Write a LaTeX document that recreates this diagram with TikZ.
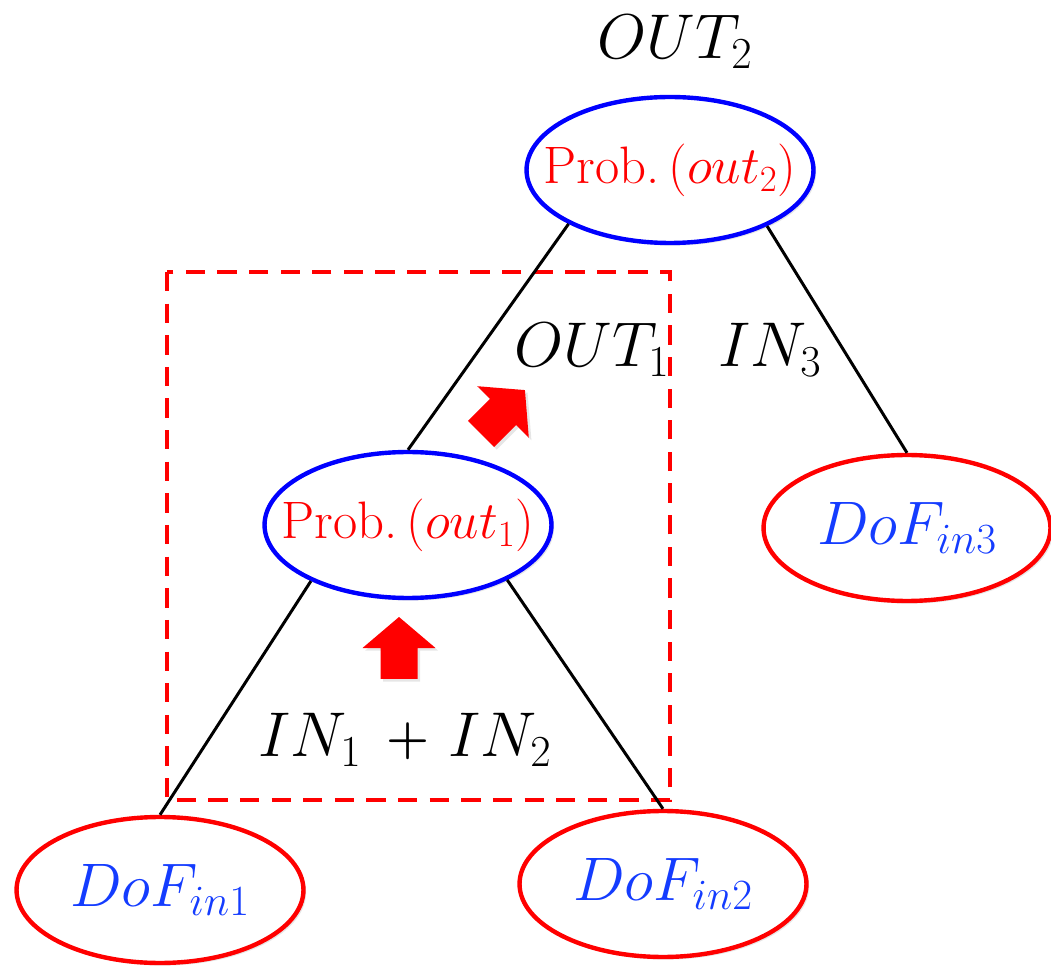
\RequirePackage{fix-cm}
\documentclass[tikz,border=0pt]{standalone}
\usepackage{tikz}
\usetikzlibrary{shapes.geometric,shadows}
\definecolor{dofblue}{RGB}{20,60,255}

\tikzset{
  softshadow/.style={drop shadow={opacity=0.2,shadow xshift=1.5pt,shadow yshift=-1.5pt}},
  probnode/.style={ellipse, draw=blue, line width=2.5pt, fill=white, inner sep=0pt,
    minimum width=5.74cm, minimum height=2.92cm, text=red,
    font=\fontsize{30}{33}\selectfont, softshadow},
  dofnode/.style={ellipse, draw=red, line width=2.5pt, fill=white, inner sep=0pt,
    minimum width=5.74cm, minimum height=2.92cm, text=dofblue,
    font=\fontsize{35}{38}\selectfont, softshadow},
  bigtext/.style={font=\fontsize{36}{40}\selectfont},
  branch/.style={line width=1.7pt},
  redarrow/.style={fill=red, softshadow}
}

\begin{document}
\begin{tikzpicture}[x=0.02cm, y=-0.02cm]
  \useasboundingbox (0,0) rectangle (1051,972);
  % Dashed box round the first step
  \draw[red, line width=2.3pt, dash pattern=on 11pt off 7pt] (167,272) rectangle (670,800);
  % Probability nodes
  \node[probnode] (out2) at (670,170) {\makebox[0pt]{Prob.$\,(out_2)$}};
  \node[probnode] (out1) at (408,525) {\makebox[0pt]{Prob.$\,(out_1)$}};
  % Input nodes
  \node[dofnode] (in1) at (160,890) {\makebox[0pt]{$DoF_{in1}$}};
  \node[dofnode] (in2) at (663,884) {\makebox[0pt]{$DoF_{in2}$}};
  \node[dofnode] (in3) at (907,528) {\makebox[0pt]{$DoF_{in3}$}};
  % Labels
  \node[bigtext] (lout2) at (675,42) {$OUT_2$};
  \node[bigtext] (lout1) at (592,350) {$OUT_1$};
  \node[bigtext] (lin3) at (770,350) {$IN_3$};
  \node[bigtext] (lin12) at (405,740)
    {$IN_1$\hspace{14pt}\raisebox{2pt}{\fontsize{28}{30}\selectfont\bfseries +}\hspace{11pt}$IN_2$};
  % Branches
  \draw[branch] (out2.208) -- (out1.north);
  \draw[branch] (out2.330) -- (in3.north);
  \draw[branch] (out1.210) -- (in1.north);
  \draw[branch] (out1.331) -- (in2.north);
  % Red arrows
  \foreach \px/\py/\ang in {399/648/0, 503/412/-45}
    \fill[redarrow, shift={(\px,\py)}, rotate=\ang]
      (0cm,0.62cm) -- (0.73cm,0cm) -- (0.37cm,0cm) -- (0.37cm,-0.62cm)
      -- (-0.37cm,-0.62cm) -- (-0.37cm,0cm) -- (-0.73cm,0cm) -- cycle;
\end{tikzpicture}
\end{document}
